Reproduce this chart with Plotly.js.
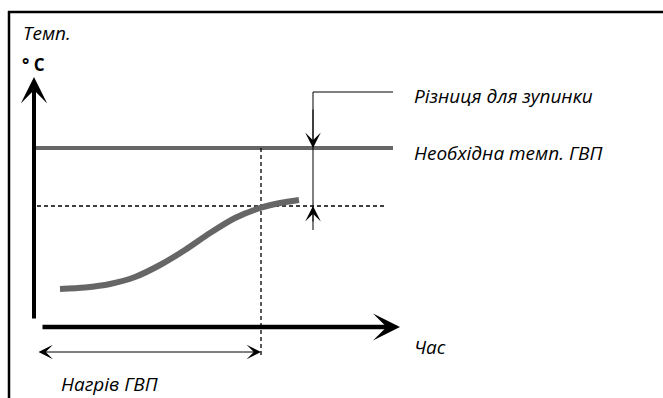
<!DOCTYPE html>
<html>
<head>
<meta charset="utf-8">
<script src="https://cdn.plot.ly/plotly-3.0.1.min.js"></script>
<style>html,body{margin:0;padding:0;background:#fff;}#chart{width:663px;height:398px;}</style>
</head>
<body>
<div id="chart"></div>
<script>
// Heating curve (time vs temperature, diagram units)
const curveTime = [60, 85, 110, 135, 160, 185, 210, 235, 260, 280, 299];
const curveTemp = [109, 110.5, 114, 121, 133, 148, 165, 180, 190, 195, 198];

// Levels
const requiredTemp = 250;      // Необхідна темп. ГВП
const stopTemp = 192;          // required temp minus stop difference
const heatEndTime = 261;       // end of heating (curve reaches stop temp)
const diffMarkerTime = 313;    // where the difference is marked
const labels = {
  temp: 'Темп.',
  unit: '° C',
  diff: 'Різниця для зупинки',
  required: 'Необхідна темп. ГВП',
  time: 'Час',
  heating: 'Нагрів ГВП'
};

const gray = '#666666';
const fnt = {family: 'Open Sans, sans-serif', size: 19, color: '#000', style: 'italic'};

const traces = [
  { // required temperature line
    x: [33, 393], y: [requiredTemp, requiredTemp], mode: 'lines',
    line: {color: gray, width: 4}, hoverinfo: 'skip'
  },
  { // stop-level dashed horizontal
    x: [37, 385], y: [stopTemp, stopTemp], mode: 'lines',
    line: {color: '#000', width: 1.3, dash: '4px,3px'}, hoverinfo: 'skip'
  },
  { // end of heating dashed vertical
    x: [heatEndTime, heatEndTime], y: [requiredTemp, 40], mode: 'lines',
    line: {color: '#000', width: 1.3, dash: '4px,3px'}, hoverinfo: 'skip'
  },
  { // difference leader line
    x: [393, diffMarkerTime, diffMarkerTime], y: [306, 306, 168], mode: 'lines',
    line: {color: '#000', width: 1}, hoverinfo: 'skip'
  },
  { // heating curve
    x: curveTime, y: curveTemp, mode: 'lines',
    line: {color: gray, width: 6, shape: 'spline', smoothing: 0.8}, hoverinfo: 'skip'
  }
];

function arrow(x, y, ax, ay, w, size, extra) {
  return Object.assign({
    x: x, y: y, ax: ax, ay: ay, xref: 'x', yref: 'y', axref: 'x', ayref: 'y',
    showarrow: true, arrowhead: 3, arrowsize: size, arrowwidth: w, arrowcolor: '#000', text: ''
  }, extra || {});
}
function label(t, x, y) {
  return {x: x, y: y, xref: 'x', yref: 'y', text: t, showarrow: false,
    xanchor: 'left', yanchor: 'middle', font: fnt};
}

const annotations = [
  arrow(34, 321, 34, 78, 4, 1.1),             // temperature axis
  arrow(400, 71, 41, 71, 4.5, 1.0),           // time axis
  arrow(diffMarkerTime, requiredTemp, diffMarkerTime, 290, 1, 2.6),
  arrow(diffMarkerTime, stopTemp, diffMarkerTime, 175, 1, 2.6),
  arrow(heatEndTime, 46, 37, 46, 1, 2.4, {arrowside: 'end+start', startarrowhead: 3, startarrowsize: 2.4}),
  label(labels.temp, 21, 365),
  Object.assign(label(labels.unit, 20, 334), {font: {family: 'Open Sans, sans-serif', size: 17, color: '#000', weight: 'bold'}}),
  label(labels.diff, 412, 302),
  label(labels.required, 412, 245),
  label(labels.time, 412, 51),
  label(labels.heating, 59, 14)
];

const layout = {
  width: 663, height: 398,
  margin: {l: 0, r: 0, t: 0, b: 0},
  paper_bgcolor: '#fff', plot_bgcolor: '#fff',
  showlegend: false,
  xaxis: {range: [0, 663], visible: false, fixedrange: true},
  yaxis: {range: [0, 398], visible: false, fixedrange: true},
  annotations: annotations,
  shapes: [
    {type: 'line', xref: 'x', yref: 'y', x0: 8, x1: 663, y0: 386, y1: 386, line: {color: '#000', width: 2.5}},
    {type: 'line', xref: 'x', yref: 'y', x0: 9, x1: 9, y0: 387, y1: 0, line: {color: '#000', width: 2.5}}
  ]
};

Plotly.newPlot('chart', traces, layout, {displayModeBar: false, staticPlot: true});
</script>
</body>
</html>
